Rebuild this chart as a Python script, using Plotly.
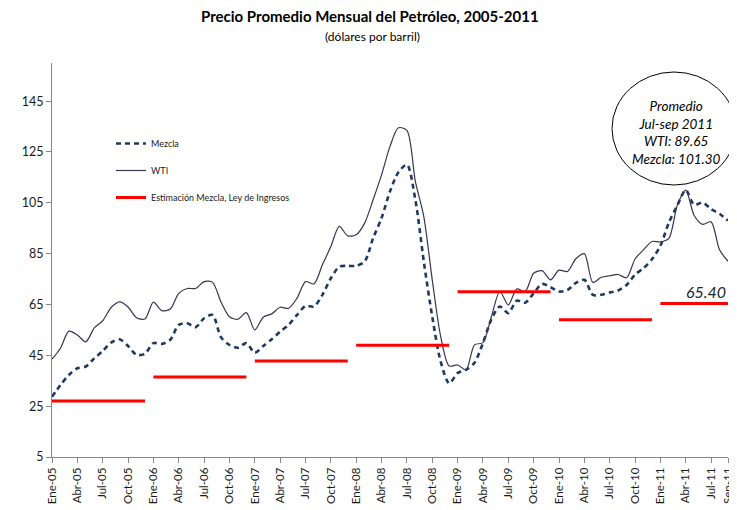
import plotly.graph_objects as go

# ---- Data ----
years = ["05", "06", "07", "08", "09", "10", "11"]
month_abbr = ["Ene", "Feb", "Mar", "Abr", "May", "Jun", "Jul", "Ago", "Sep", "Oct", "Nov", "Dic"]
months = [f"{m}-{y}" for y in years for m in month_abbr][:81]  # Ene-05 .. Sep-11

wti = [
    # 2005
    43.5, 47.8, 54.5, 53.0, 50.3, 55.8, 58.6, 63.8, 66.0, 64.0, 59.8, 59.3,
    # 2006
    65.9, 62.6, 63.2, 69.4, 71.3, 71.3, 74.0, 73.7, 66.0, 60.2, 59.2, 61.8,
    # 2007
    55.0, 60.0, 61.3, 63.9, 63.5, 67.5, 74.0, 73.1, 80.6, 87.8, 95.7, 92.0,
    # 2008
    92.4, 97.0, 106.2, 116.0, 127.2, 134.5, 133.5, 113.4, 99.6, 74.7, 52.4, 40.8,
    # 2009
    41.2, 39.3, 49.1, 50.0, 60.2, 70.1, 64.8, 71.1, 70.1, 77.3, 78.3, 74.7,
    # 2010
    78.5, 78.0, 83.0, 85.0, 73.7, 75.7, 76.3, 76.8, 75.5, 82.9, 86.5, 89.8,
    # 2011
    89.6, 91.0, 104.0, 110.0, 100.0, 96.5, 97.5, 86.5, 82.0,
]

mezcla = [
    # 2005
    28.7, 33.3, 37.3, 39.9, 40.6, 43.8, 46.7, 50.0, 51.3, 48.7, 45.2, 45.6,
    # 2006
    49.8, 49.5, 51.1, 57.0, 57.6, 56.1, 59.6, 60.9, 52.1, 49.1, 48.0, 49.8,
    # 2007
    46.0, 48.7, 51.3, 54.3, 57.0, 60.9, 64.4, 64.2, 68.8, 75.3, 79.9, 80.2,
    # 2008
    80.2, 81.9, 91.1, 99.0, 109.5, 117.0, 120.0, 106.2, 81.9, 60.2, 42.5, 34.0,
    # 2009
    38.0, 39.3, 42.1, 49.8, 59.2, 64.2, 61.6, 66.5, 65.7, 69.4, 73.1, 71.8,
    # 2010
    70.1, 70.7, 73.5, 74.7, 68.8, 68.8, 69.7, 70.5, 72.7, 76.7, 79.3, 82.8,
    # 2011
    88.1, 97.2, 104.0, 110.0, 104.2, 105.1, 102.5, 100.7, 98.0,
]

# Estimated Mezcla price in the Ley de Ingresos, per year
estimacion = [27.0, 36.5, 42.8, 49.0, 70.0, 59.0, 65.4]

tick_labels = ["Ene-05", "Abr-05", "Jul-05", "Oct-05", "Ene-06", "Abr-06", "Jul-06", "Oct-06",
               "Ene-07", "Abr-07", "Jul-07", "Oct-07", "Ene-08", "Abr-08", "Jul-08", "Oct-08",
               "Ene-09", "Abr-09", "Jul-09", "Oct-09", "Ene-10", "Abr-10", "Jul-10", "Oct-10",
               "Ene-11", "Abr-11", "Jul-11", "Sep-11"]

# ---- Build ----
idx = list(range(len(months)))
tick_pos = [months.index(t) for t in tick_labels]

est_x, est_y = [], []
for k, v in enumerate(estimacion):
    start = 12 * k
    end = min(12 * k + 11, len(months) - 1)
    est_x += [start, end, None]
    est_y += [v, v, None]

FONT = "Lato, 'Liberation Sans', Arial, sans-serif"

fig = go.Figure()
fig.add_trace(go.Scatter(
    x=idx, y=mezcla, mode="lines", name="Mezcla", legendgroup="a",
    line=dict(color="#1F3A5F", width=2.6, dash="5px,4px", shape="spline", smoothing=0.8),
))
fig.add_trace(go.Scatter(
    x=idx, y=wti, mode="lines", name="WTI", legendgroup="b",
    line=dict(color="#3C3350", width=1.2, shape="spline", smoothing=0.8),
))
fig.add_trace(go.Scatter(
    x=est_x, y=est_y, mode="lines", name="Estimación Mezcla, Ley de Ingresos", legendgroup="c",
    line=dict(color="#FF0000", width=3), connectgaps=False,
))

# page offset (browser body margin)
OFF = 8
W, H = 737 - OFF, 510 - OFF
# plot area edges in reference-page pixels
P_LEFT, P_RIGHT, P_TOP, P_BOTTOM = 52, 728, 63, 457
L, T = P_LEFT - OFF, P_TOP - OFF
R = W - (P_RIGHT - OFF)
B = H - (P_BOTTOM - OFF)
pw, ph = P_RIGHT - P_LEFT, P_BOTTOM - P_TOP


def px(xp):
    return (xp - P_LEFT) / pw


def py(yp):
    return (P_BOTTOM - yp) / ph


fig.update_layout(
    width=W, height=H,
    margin=dict(l=L, r=R, t=T, b=B, pad=0, autoexpand=False),
    paper_bgcolor="white", plot_bgcolor="white",
    font=dict(family=FONT, color="#1a1a1a"),
    showlegend=True,
    legend=dict(
        x=px(111), y=py(129), xanchor="left", yanchor="top",
        font=dict(size=9, family=FONT, color="#1a1a1a"),
        bgcolor="rgba(0,0,0,0)", tracegroupgap=8,
    ),
    xaxis=dict(
        range=[0, len(months) - 1], tickmode="array", tickvals=tick_pos, ticktext=tick_labels,
        tickangle=-90, tickfont=dict(size=11.5, family=FONT, color="#1a1a1a"),
        showline=True, linecolor="#868686", linewidth=1, ticks="outside", ticklen=5,
        tickcolor="#868686", showgrid=False, zeroline=False,
    ),
    yaxis=dict(
        range=[5, 160], tickmode="array", tickvals=list(range(5, 146, 20)),
        tickfont=dict(size=12.5, family=FONT, color="#1a1a1a"),
        showline=True, linecolor="#868686", linewidth=1, ticks="outside", ticklen=5,
        tickcolor="#868686", showgrid=False, zeroline=False,
    ),
)

# Titles
fig.add_annotation(xref="paper", yref="paper", x=px(370), y=py(16), xanchor="center", yanchor="middle",
                   text="<b>Precio Promedio Mensual del Petróleo, 2005-2011</b>", showarrow=False,
                   font=dict(size=15, family=FONT, color="#000000"))
fig.add_annotation(xref="paper", yref="paper", x=px(372), y=py(36), xanchor="center", yanchor="middle",
                   text="(dólares por barril)", showarrow=False,
                   font=dict(size=12, family=FONT, color="#000000"))

# Ellipse callout
fig.add_shape(type="circle", xref="paper", yref="paper",
              x0=px(612), x1=px(736), y0=py(185), y1=py(72),
              line=dict(color="#000000", width=1), fillcolor="white", layer="above")
fig.add_annotation(xref="paper", yref="paper", x=px(676), y=py(132), xanchor="center", yanchor="middle",
                   text="<i>Promedio<br>Jul-sep 2011<br>WTI: 89.65<br>Mezcla: 101.30</i>",
                   showarrow=False, align="center",
                   font=dict(size=13.5, family=FONT, color="#000000"))

# Last-year estimate label
fig.add_annotation(x=len(months) - 1, y=estimacion[-1], xref="x", yref="y",
                   xanchor="right", yanchor="bottom", text=f"<i>{estimacion[-1]:.2f}</i>",
                   showarrow=False, font=dict(size=16, family=FONT, color="#262626"))

fig.write_html("out.html")
